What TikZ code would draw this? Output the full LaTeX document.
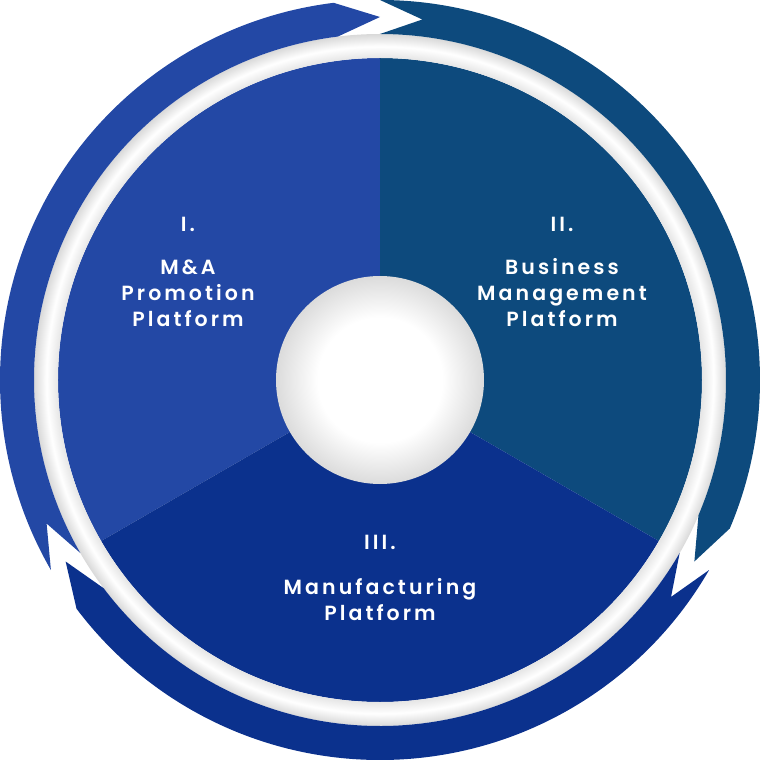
\documentclass[tikz,border=0pt]{standalone}
\usepackage{fontspec}
\setmainfont{Poppins}[UprightFont=* SemiBold, LetterSpace=15]
\definecolor{leftblue}{HTML}{2348A5}
\definecolor{tealblue}{HTML}{0D4A7D}
\definecolor{botblue}{HTML}{0B318D}
\pgfdeclareradialshading{ringshade}{\pgfpoint{0bp}{0bp}}{color(0bp)=(white); color(23.27bp)=(black!10); color(24.1bp)=(white); color(25bp)=(black!15); color(50bp)=(black!15)}
\pgfdeclareradialshading{ballshade}{\pgfpoint{0bp}{0bp}}{color(0bp)=(white); color(15bp)=(white); color(25bp)=(black!14); color(50bp)=(black!14)}
\tikzset{
  lbl/.style={text=white, font=\fontsize{20.5}{26}\selectfont, inner sep=0pt, anchor=base},
  arrowband/.style={draw=none}
}
\begin{document}
\begin{tikzpicture}[x=1pt,y=1pt]
\useasboundingbox (-380,-380) rectangle (380,380);
% sectors
\fill[leftblue] (0,0) -- (90:322) arc[start angle=90,end angle=210,radius=322] -- cycle;
\fill[tealblue] (0,0) -- (-30:322) arc[start angle=-30,end angle=90,radius=322] -- cycle;
\fill[botblue] (0,0) -- (210:322) arc[start angle=210,end angle=330,radius=322] -- cycle;
% ring
\shade[shading=ringshade, even odd rule] (0,0) circle[radius=346] (0,0) circle[radius=322];
% centre ball
\shade[shading=ballshade] (0,0) circle[radius=104];
% outer arrows
\foreach \T/\c in {210/leftblue,90/tealblue,-30/botblue}{
  \pgfmathsetmacro\H{\T-120}
  \pgfmathsetmacro\Hb{\T-113}
  \pgfmathsetmacro\N{\T-6.7}
  \fill[\c, arrowband] (\T:380) arc[start angle=\T,end angle=\Hb,radius=380]
     -- (\H:363) -- (\Hb:346) arc[start angle=\Hb,end angle=\T,radius=346]
     -- (\N:363) -- cycle;
}
% labels
\node[lbl] (n1) at (-192,148) {I.};
\node[lbl] (t1a) at (-192,105) {M\&A};
\node[lbl] (t1b) at (-192,79) {Promotion};
\node[lbl] (t1c) at (-192,53) {Platform};
\node[lbl] (n2) at (182,148) {II.};
\node[lbl] (t2a) at (182,105) {Business};
\node[lbl] (t2b) at (182,79) {Management};
\node[lbl] (t2c) at (182,53) {Platform};
\node[lbl] (n3) at (0,-169) {III.};
\node[lbl] (t3a) at (0,-214) {Manufacturing};
\node[lbl] (t3b) at (0,-240) {Platform};
\end{tikzpicture}
\end{document}
